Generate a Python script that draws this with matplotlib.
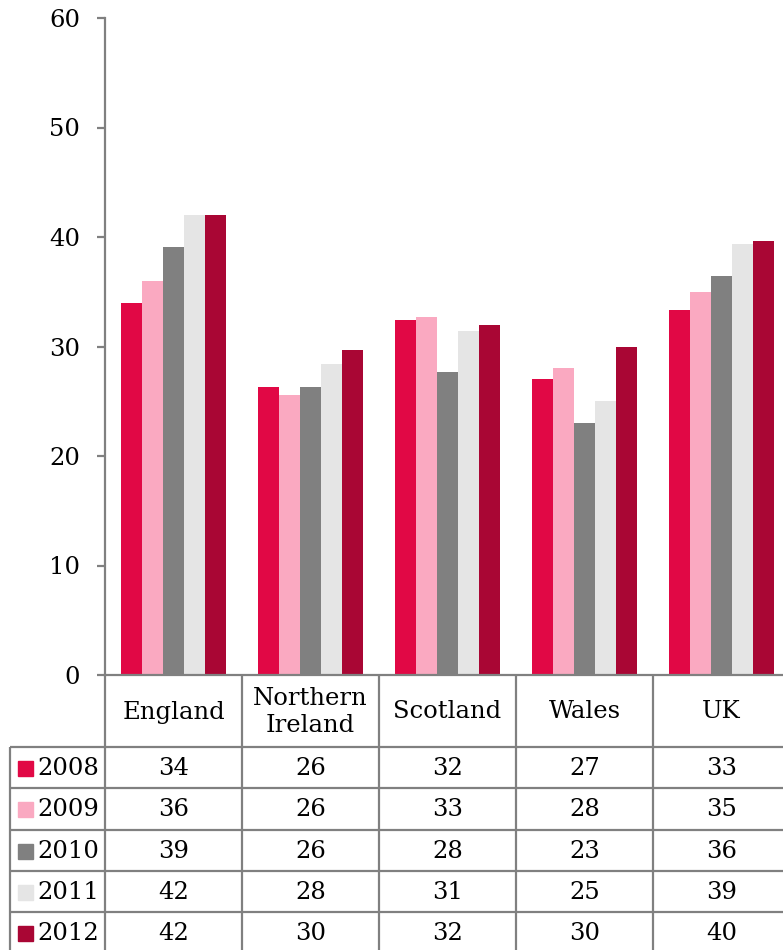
import matplotlib
matplotlib.use("Agg")
import matplotlib.pyplot as plt
import numpy as np

# Data
regions = ["England", "Northern\nIreland", "Scotland", "Wales", "UK"]
years = ["2008", "2009", "2010", "2011", "2012"]
v2008 = [34.0, 26.3, 32.4, 27.0, 33.3]
v2009 = [36.0, 25.6, 32.7, 28.0, 35.0]
v2010 = [39.1, 26.3, 27.7, 23.0, 36.4]
v2011 = [42.0, 28.4, 31.4, 25.0, 39.4]
v2012 = [42.0, 29.7, 32.0, 30.0, 39.6]
series = [v2008, v2009, v2010, v2011, v2012]
colors = ["#E10845", "#FAA9C1", "#808080", "#E5E5E5", "#A90634"]
yticks = [0, 10, 20, 30, 40, 50, 60]

plt.rcParams["font.family"] = ["DejaVu Serif"]
FS = 17.5
GREY = "#808080"

W, H = 783, 950
fig = plt.figure(figsize=(W / 100, H / 100), dpi=100)
fig.patch.set_facecolor("white")

# main bar axes (slightly wider than the figure, like the cropped original)
x0, x1, ytop, ybot = 105, 790, 18, 675
ax = fig.add_axes([x0 / W, (H - ybot) / H, (x1 - x0) / W, (ybot - ytop) / H])
x = np.arange(len(regions))
bw = 21 / 137
for i, vals in enumerate(series):
    ax.bar(x + (i - 2) * bw, vals, width=bw, color=colors[i], linewidth=0)
ax.set_xlim(-0.5, len(regions) - 0.5)
ax.set_ylim(0, 60)
ax.set_yticks(yticks)
ax.set_yticklabels([str(t) for t in yticks], fontsize=FS)
ax.set_xticks([])
for s in ["top", "right"]:
    ax.spines[s].set_visible(False)
for s in ["left", "bottom"]:
    ax.spines[s].set_color(GREY)
    ax.spines[s].set_linewidth(1.6)
ax.tick_params(axis="y", colors=GREY, length=6, width=1.6, pad=12, labelcolor="black")

# data table below the axes, y in pixels below the axis line
tab = fig.add_axes([x0 / W, 0, (x1 - x0) / W, (H - ybot) / H])
tab.set_xlim(-0.5, len(regions) - 0.5)
tab.set_ylim(H - ybot, 0)
tab.axis("off")

px = 1 / 137  # one pixel in category units
left_edge = -0.5 - 95 * px
head_h = 72
row_h = 41.3
line_kw = dict(color=GREY, lw=1.6, clip_on=False, solid_capstyle="butt")

for j, name in enumerate(regions):
    tab.text(j, head_h / 2 + 1, name, ha="center", va="center", fontsize=FS,
             linespacing=1.2)
for k in range(len(years) + 1):
    y = head_h + k * row_h
    tab.plot([left_edge, len(regions) - 0.5], [y, y], **line_kw)
for j in range(len(regions)):
    tab.plot([j - 0.5, j - 0.5], [0, 300], **line_kw)
tab.plot([left_edge, left_edge], [head_h, 300], **line_kw)

for i, yr in enumerate(years):
    yc = head_h + (i + 0.5) * row_h + 1
    tab.add_patch(plt.Rectangle((-0.5 - 87 * px, yc - 7.5), 15 * px, 15,
                                color=colors[i], clip_on=False))
    tab.text(-0.5 - 68 * px, yc, yr, ha="left", va="center", fontsize=FS)
    for j in range(len(regions)):
        tab.text(j, yc, f"{series[i][j]:.0f}", ha="center", va="center", fontsize=FS)

fig.savefig("out.png", dpi=100)
